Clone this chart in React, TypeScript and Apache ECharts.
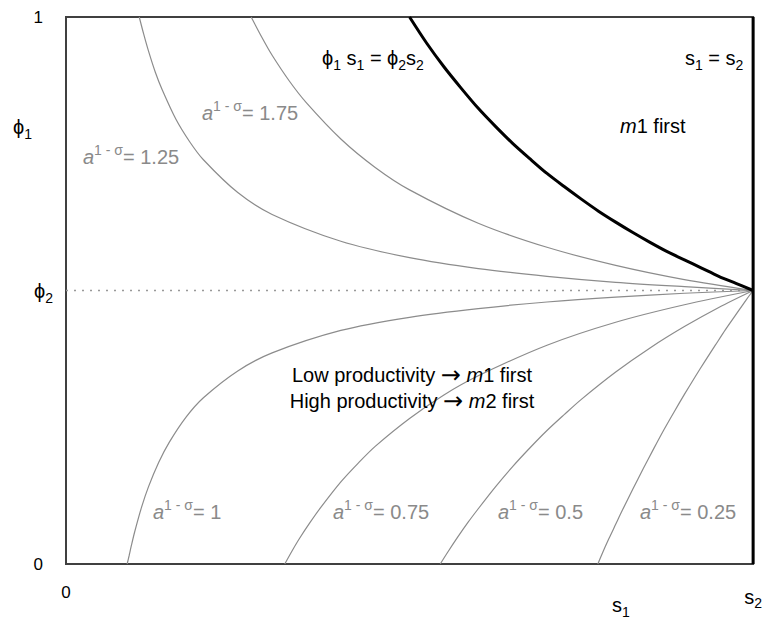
import React, { useEffect, useRef } from "react";
import * as echarts from "echarts";

// s1 (share) vs phi1 values
const curveK175: [number, number][] = [[0.2695, 1], [0.285, 0.963], [0.3, 0.93], [0.325, 0.883], [0.35, 0.843], [0.4, 0.777], [0.45, 0.725], [0.5, 0.684], [0.6, 0.623], [0.7, 0.579], [0.8, 0.546], [0.9, 0.52], [1, 0.5]];
const curveK125: [number, number][] = [[0.1066, 1], [0.113, 0.969], [0.12, 0.938], [0.13, 0.899], [0.14, 0.867], [0.16, 0.813], [0.18, 0.772], [0.2, 0.739], [0.25, 0.679], [0.3, 0.639], [0.4, 0.59], [0.5, 0.56], [0.6, 0.54], [0.7, 0.526], [0.8, 0.515], [0.9, 0.507], [1, 0.5]];
const curveK100: [number, number][] = [[0.089, 0], [0.092, 0.016], [0.095, 0.033], [0.1, 0.059], [0.11, 0.104], [0.12, 0.141], [0.135, 0.186], [0.15, 0.222], [0.175, 0.269], [0.2, 0.304], [0.25, 0.353], [0.3, 0.386], [0.4, 0.427], [0.5, 0.451], [0.6, 0.467], [0.7, 0.479], [0.8, 0.488], [0.9, 0.495], [1, 0.5]];
const curveK075: [number, number][] = [[0.3184, 0], [0.33, 0.026], [0.34, 0.047], [0.355, 0.0755], [0.37, 0.102], [0.4, 0.15], [0.425, 0.184], [0.45, 0.215], [0.5, 0.266], [0.55, 0.309], [0.6, 0.344], [0.7, 0.4], [0.8, 0.442], [0.9, 0.474], [1, 0.5]];
const curveK050: [number, number][] = [[0.5447, 0], [0.555, 0.0205], [0.57, 0.049], [0.585, 0.076], [0.6, 0.101], [0.625, 0.141], [0.65, 0.178], [0.675, 0.212], [0.7, 0.244], [0.725, 0.273], [0.75, 0.301], [0.8, 0.351], [0.85, 0.395], [0.9, 0.434], [0.95, 0.469], [1, 0.5]];
const curveK025: [number, number][] = [[0.774, 0], [0.78, 0.018], [0.79, 0.046], [0.8, 0.0725], [0.81, 0.099], [0.825, 0.137], [0.84, 0.174], [0.855, 0.21], [0.87, 0.245], [0.885, 0.278], [0.9, 0.31], [0.915, 0.341], [0.93, 0.371], [0.945, 0.4], [0.96, 0.429], [0.98, 0.465], [0.99, 0.483], [1, 0.5]];
const boldCurve: [number, number][] = [[0.5, 1], [0.525, 0.952], [0.55, 0.909], [0.575, 0.87], [0.6, 0.833], [0.625, 0.8], [0.65, 0.769], [0.675, 0.741], [0.7, 0.714], [0.725, 0.69], [0.75, 0.667], [0.775, 0.645], [0.8, 0.625], [0.825, 0.606], [0.85, 0.588], [0.875, 0.571], [0.9, 0.556], [0.925, 0.541], [0.95, 0.526], [0.975, 0.513], [1, 0.5]];
const equalLine: [number, number][] = [[1, 0], [1, 1]];
const phi2Line: [number, number][] = [[0, 0.5], [1, 0.5]];

const kValues = ["1.75", "1.25", "1", "0.75", "0.5", "0.25"];
const yTickLabels: Record<string, string> = { "0": "0", "0.5": "phi2", "1": "1" };
const xTickLabels: Record<string, string> = { "0": "0", "1": "s2" };

const FONT = "Liberation Sans, Arial, sans-serif";
const GRAY = "#8a8a8a";
const CURVE = "#8c8c8c";

const richBase = (color: string) => ({
  t: { fontSize: 20, fontFamily: FONT, color, fill: color, lineHeight: 28 },
  it: { fontSize: 20, fontFamily: FONT, fontStyle: "italic", color, fill: color, lineHeight: 28 },
  ar: { fontSize: 24, fontFamily: "DejaVu Sans", color, fill: color, lineHeight: 28 },
  sub: { fontSize: 14, fontFamily: FONT, color, fill: color, verticalAlign: "bottom" },
  sup: { fontSize: 14, fontFamily: FONT, color, fill: color, verticalAlign: "top" },
});

function kLabel(k: string) {
  return "{it|a}{sup|1 - σ}{t|= " + k + "}";
}

export default function App() {
  const ref = useRef<HTMLDivElement>(null);
  useEffect(() => {
    if (!ref.current) return;
    const chart = echarts.init(ref.current, undefined, { renderer: "svg" });
    const grayCurves = [curveK175, curveK125, curveK100, curveK075, curveK050, curveK025];
    const text = (x: number, y: number, t: string, color: string, align = "left") => ({
      type: "text",
      x,
      y,
      z: 10,
      style: {
        text: t,
        rich: richBase(color),
        align,
        textAlign: align,
        verticalAlign: "middle",
        textVerticalAlign: "middle",
        fill: color,
      },
    });
    chart.setOption({
      animation: false,
      grid: { left: 66, right: 5, top: 17, bottom: 57, show: true, borderColor: "#404040", borderWidth: 2, backgroundColor: "transparent" },
      xAxis: {
        type: "value",
        min: 0,
        max: 1,
        interval: 1,
        axisLine: { show: true, lineStyle: { color: "#404040", width: 2 } },
        axisTick: { show: false },
        splitLine: { show: false },
        axisLabel: {
          margin: 20,
          showMaxLabel: true,
          formatter: (v: number) => {
            const l = xTickLabels[String(v)];
            return l === "s2" ? "{s|s}{sub|2}" : "{n|" + l + "}";
          },
          rich: {
            s: { fontSize: 20, fontFamily: FONT, color: "#000", lineHeight: 26 },
            sub: { fontSize: 14, fontFamily: FONT, color: "#000", verticalAlign: "bottom" },
            n: { fontSize: 17, fontFamily: FONT, color: "#000" },
          },
        },
      },
      yAxis: {
        type: "value",
        min: 0,
        max: 1,
        interval: 0.5,
        axisLine: { show: true, lineStyle: { color: "#404040", width: 2 } },
        axisTick: { show: false },
        splitLine: { show: false },
        axisLabel: {
          margin: 13,
          formatter: (v: number) => {
            const l = yTickLabels[String(v)];
            return l === "phi2" ? "{p|ϕ}{sub|2}" : "{n|" + l + "}";
          },
          rich: {
            p: { fontSize: 20, fontFamily: FONT, color: "#000", lineHeight: 28 },
            sub: { fontSize: 14, fontFamily: FONT, color: "#000", verticalAlign: "bottom" },
            n: { fontSize: 17, fontFamily: FONT, color: "#000", padding: [0, 10, 0, 0] },
          },
        },
      },
      series: [
        {
          type: "line",
          data: phi2Line,
          showSymbol: false,
          symbol: "none",
          lineStyle: { color: "#999", width: 1.5, type: [2, 6] },
          z: 1,
        },
        ...grayCurves.map((d) => ({
          type: "line",
          data: d,
          showSymbol: false,
          symbol: "none",
          smooth: 0.3,
          lineStyle: { color: CURVE, width: 1.2 },
          z: 2,
        })),
        {
          type: "line",
          data: boldCurve,
          showSymbol: false,
          symbol: "none",
          smooth: 0.3,
          lineStyle: { color: "#000", width: 3 },
          z: 3,
        },
        {
          type: "line",
          data: equalLine,
          showSymbol: false,
          symbol: "none",
          lineStyle: { color: "#000", width: 3 },
          z: 3,
        },
      ],
      graphic: [
        text(13, 127, "{t|ϕ}{sub|1}", "#000"),
        text(612, 605, "{t|s}{sub|1}", "#000"),
        text(322, 58, "{t|ϕ}{sub|1}{t| s}{sub|1}{t| = ϕ}{sub|2}{t|s}{sub|2}", "#000"),
        text(685, 58, "{t|s}{sub|1}{t| = s}{sub|2}", "#000"),
        text(620, 126, "{it|m}{t|1 first}", "#000"),
        text(412, 375, "{t|Low productivity }{ar|→}{t| }{it|m}{t|1 first}", "#000", "center"),
        text(412, 401, "{t|High productivity }{ar|→}{t| }{it|m}{t|2 first}", "#000", "center"),
        text(202, 113, kLabel(kValues[0]), GRAY),
        text(83, 157, kLabel(kValues[1]), GRAY),
        text(153, 512, kLabel(kValues[2]), GRAY),
        text(333, 512, kLabel(kValues[3]), GRAY),
        text(498, 512, kLabel(kValues[4]), GRAY),
        text(640, 512, kLabel(kValues[5]), GRAY),
      ],
    });
    return () => chart.dispose();
  }, []);
  return <div ref={ref} style={{ width: 765, height: 621, position: "absolute", left: 0, top: 0 }} />;
}
